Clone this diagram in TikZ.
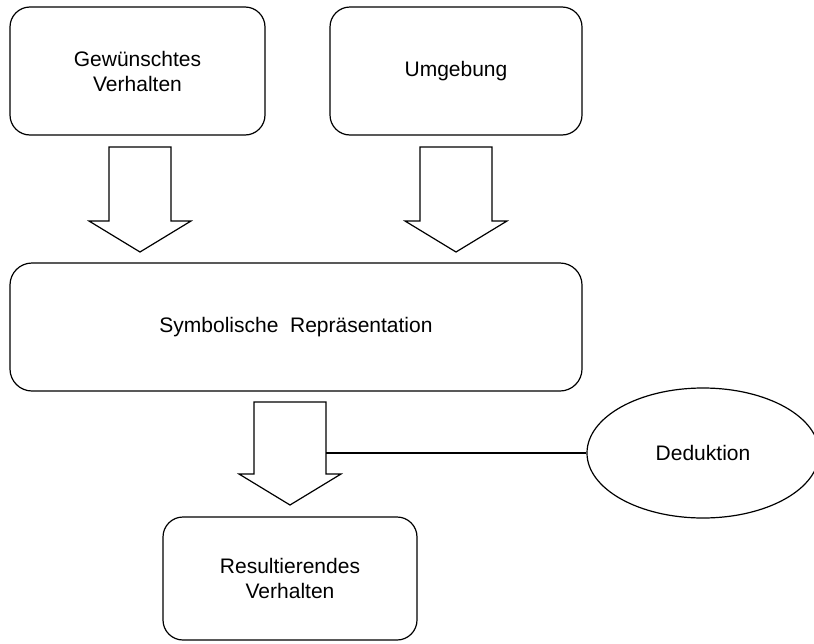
\documentclass[tikz,border=0pt]{standalone}
\usepackage{fontspec}
\setmainfont{Liberation Sans}
\usetikzlibrary{shapes.geometric}

% Hollow block arrow pointing down:
% #1 centre x, #2 top y, #3 half shaft width, #4 shaft length, #5 total length
\newcommand{\hollowdownarrow}[5]{%
  \draw[outline] (#1-#3,#2) -- (#1+#3,#2) -- (#1+#3,#2+#4) -- (#1+51,#2+#4)
    -- (#1,#2+#5) -- (#1-51,#2+#4) -- (#1-#3,#2+#4) -- cycle;}

\begin{document}
\begin{tikzpicture}[x=1pt,y=-1pt,
  outline/.style={draw, line width=1.2pt, line join=miter},
  txt/.style={font=\fontsize{21}{25}\selectfont, align=center},
  roundbox/.style={outline, txt, rounded corners=20pt, inner sep=0pt}]
  \useasboundingbox (0,0) rectangle (814,643);

  % input boxes
  \node[roundbox, minimum width=255pt, minimum height=128pt] (want) at (137.5,71)
    {Gew\"unschtes\\Verhalten};
  \node[roundbox, minimum width=252pt, minimum height=128pt] (env) at (456,71)
    {Umgebung};

  % central representation
  \node[roundbox, rounded corners=22pt, minimum width=572pt, minimum height=128pt]
    (sym) at (296,327) {Symbolische\ \ Repr\"asentation};

  % result box
  \node[roundbox, minimum width=254pt, minimum height=123pt] (res) at (290,578.5)
    {Resultierendes\\Verhalten};

  % deduction ellipse
  \node[outline, txt, ellipse, inner sep=0pt, minimum width=232pt, minimum height=130pt]
    (ded) at (703,453) {Deduktion};

  % block arrows
  \hollowdownarrow{140}{147}{31}{74}{105}
  \hollowdownarrow{456}{147}{36}{74}{105}
  \hollowdownarrow{290}{402}{36}{72}{103}

  % link from the lower arrow to the deduction
  \coordinate (shaftright) at (326,453);
  \draw[outline] (shaftright) -- (ded.west);
\end{tikzpicture}
\end{document}
